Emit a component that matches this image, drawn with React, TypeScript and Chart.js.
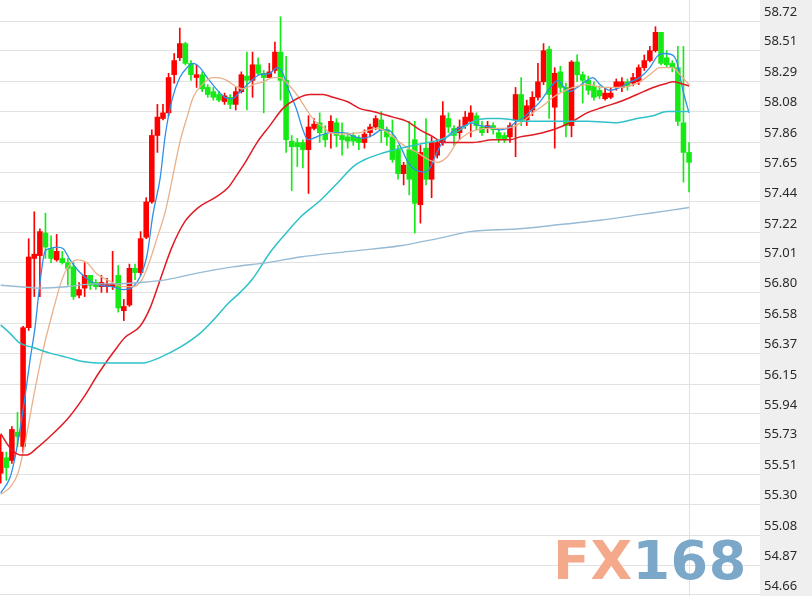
import { useEffect, useRef } from "react";
import { Chart, registerables } from "chart.js";
Chart.register(...registerables);

const tickLabels = ["58.72","58.51","58.29","58.08","57.86","57.65","57.44","57.22","57.01","56.80","56.58","56.37","56.15","55.94","55.73","55.51","55.30","55.08","54.87","54.66"];

const opens = [55.52,55.63,55.61,55.81,55.71,56.55,57.04,57.06,57.22,57.11,57.03,57.04,57.01,56.98,56.78,56.83,56.92,56.87,56.84,56.84,56.84,56.92,56.67,56.71,56.97,56.94,57.19,57.44,57.91,58.03,58.07,58.34,58.46,58.56,58.42,58.32,58.34,58.25,58.22,58.20,58.15,58.18,58.13,58.22,58.33,58.30,58.41,58.35,58.32,58.37,58.50,58.30,57.87,57.86,57.86,57.81,57.96,58.00,57.92,57.93,58.00,57.91,57.90,57.91,57.89,57.86,57.93,57.97,58.02,57.95,57.90,57.81,57.64,57.81,57.88,57.42,57.82,57.60,57.77,57.86,58.03,57.96,57.93,57.98,58.01,58.05,57.97,57.96,57.98,57.93,57.91,57.90,58.02,58.20,58.02,58.09,58.18,58.29,58.52,58.11,58.36,58.25,57.98,58.43,58.34,58.30,58.26,58.23,58.17,58.18,58.25,58.25,58.29,58.28,58.29,58.39,58.44,58.51,58.64,58.46,58.42,58.39,58.00,57.79];
const highs = [55.79,55.67,55.85,55.95,56.56,57.18,57.37,57.25,57.36,57.20,57.21,57.09,57.04,57.01,56.87,57.01,56.92,56.89,56.92,56.90,57.09,56.99,56.75,57.00,57.00,57.23,57.47,57.95,58.13,58.13,58.35,58.49,58.67,58.57,58.44,58.41,58.36,58.27,58.25,58.22,58.21,58.20,58.25,58.36,58.50,58.50,58.46,58.37,58.42,58.57,58.75,58.47,57.91,57.89,57.88,58.05,58.03,58.07,57.98,58.05,58.03,58.00,57.93,57.93,57.91,57.95,57.99,58.05,58.08,57.97,58.02,57.84,57.72,58.01,58.01,57.84,58.03,57.90,57.88,58.15,58.07,57.98,58.02,58.08,58.12,58.07,58.01,58.01,58.00,57.95,57.93,58.00,58.25,58.32,58.16,58.22,58.42,58.56,58.54,58.39,58.40,58.28,58.44,58.48,58.36,58.33,58.29,58.26,58.25,58.25,58.31,58.32,58.31,58.35,58.41,58.48,58.54,58.68,58.64,58.51,58.44,58.54,58.54,57.86];
const lows = [55.45,55.47,55.59,55.71,55.67,56.53,56.77,56.77,57.04,57.01,57.02,57.00,56.85,56.75,56.76,56.77,56.82,56.82,56.80,56.80,56.82,56.66,56.60,56.70,56.89,56.92,57.18,57.43,57.79,58.02,58.05,58.28,58.44,58.41,58.30,58.25,58.22,58.18,58.16,58.15,58.13,58.10,58.09,58.21,58.09,58.18,58.34,58.07,58.32,58.35,58.16,57.79,57.52,57.69,57.68,57.50,57.95,57.86,57.83,57.82,57.83,57.77,57.82,57.84,57.81,57.82,57.90,57.95,57.86,57.84,57.72,57.60,57.56,57.49,57.22,57.29,57.56,57.47,57.75,57.84,57.93,57.84,57.88,57.96,57.90,57.95,57.91,57.93,57.92,57.86,57.86,57.86,57.76,57.98,57.98,58.05,58.16,58.27,58.03,57.82,58.22,57.90,57.90,58.29,58.14,58.20,58.16,58.17,58.16,58.17,58.23,58.22,58.23,58.26,58.27,58.37,58.43,58.50,58.41,58.39,58.36,57.98,57.58,57.51];
const closes = [55.67,55.56,55.83,55.78,56.55,57.05,57.07,57.23,57.12,57.04,57.09,57.01,56.97,56.77,56.82,56.92,56.85,56.84,56.87,56.86,56.86,56.69,56.70,56.97,56.94,57.18,57.44,57.91,58.04,58.07,58.32,58.44,58.56,58.42,58.34,58.34,58.24,58.20,58.18,58.16,58.19,58.13,58.22,58.34,58.30,58.41,58.35,58.32,58.36,58.50,58.30,57.88,57.83,57.83,57.81,57.97,57.99,57.93,57.88,58.01,57.91,57.88,57.87,57.87,57.86,57.92,57.97,58.03,57.95,57.90,57.74,57.64,57.70,57.60,57.43,57.79,57.60,57.86,57.86,58.05,57.97,57.91,57.97,58.04,58.07,57.98,57.93,57.98,57.95,57.89,57.88,57.98,58.20,58.01,58.12,58.18,58.29,58.51,58.20,58.35,58.25,57.98,58.43,58.34,58.30,58.23,58.18,58.19,58.21,58.21,58.29,58.29,58.26,58.32,58.39,58.44,58.51,58.64,58.42,58.41,58.39,58.01,57.79,57.72];

const ma5Idx = [0,1.66,2.56,3.45,4.34,5.24,6.13,7.02,7.92,8.81,10.06,11.13,12.38,14.17,15.96,17.74,19.9,21.85,23.64,24.9,26.14,27.2,28.5,29.4,30.6,32.0,33.3,34.4,35.6,36.9,38.3,40.1,41.3,42.8,44.6,46.3,48.1,49.4,50.3,51.3,52.9,54.0,54.9,55.8,57.1,58.8,61.2,63.3,64.7,66.4,68.1,69.2,70.5,71.7,72.8,74.0,75.8,76.7,77.6,78.9,80.0,81.2,83.0,83.9,85.7,87.4,89.2,90.5,91.9,93.2,94.6,96.4,98.2,99.6,100.5,101.7,103.0,104.8,105.8,107.1,108.9,110.7,112.5,114.2,116.0,117.3,118.3,120.0,120.9,121.9,123.0];
const ma5Val = [55.38,55.49,55.63,55.83,56.06,56.32,56.55,56.87,57.09,57.11,57.12,57.11,57.03,56.94,56.88,56.85,56.84,56.82,56.84,56.91,57.06,57.35,57.61,57.91,58.16,58.32,58.39,58.42,58.39,58.32,58.25,58.18,58.17,58.22,58.29,58.34,58.35,58.39,58.36,58.25,58.09,57.95,57.88,57.89,57.91,57.93,57.93,57.90,57.89,57.91,57.95,57.95,57.90,57.81,57.72,57.67,57.65,57.68,57.76,57.86,57.91,57.95,57.98,58.00,57.98,57.97,57.95,57.96,58.00,58.03,58.08,58.15,58.25,58.30,58.26,58.22,58.25,58.30,58.32,58.27,58.23,58.25,58.29,58.32,58.39,58.47,58.49,58.48,58.42,58.23,58.07];

const ma10Idx = [0,1.66,3.09,4.34,5.77,7.56,9.35,10.95,12.38,13.81,15.42,17.2,19.5,21.85,23.64,25.25,26.7,27.9,29.4,30.6,32.0,33.3,34.4,36.0,37.8,38.8,40.4,41.9,43.3,45.1,46.9,48.7,49.9,51.2,52.9,54.7,56.2,57.6,58.8,61.2,64.2,67.4,69.2,71.0,72.8,74.4,76.4,78.0,79.8,81.5,83.3,85.1,87.4,89.8,91.5,93.3,95.1,96.9,98.7,100.5,102.3,104.8,107.6,110.7,113.7,116.0,117.8,119.1,120.1,121.4,123.0];
const ma10Val = [55.37,55.42,55.52,55.73,56.04,56.39,56.67,56.89,57.00,57.03,57.01,56.93,56.88,56.84,56.84,56.89,57.03,57.18,57.37,57.59,57.86,58.04,58.18,58.27,58.32,58.32,58.30,58.26,58.24,58.27,58.29,58.32,58.32,58.28,58.20,58.09,58.01,57.97,57.93,57.92,57.93,57.96,57.93,57.87,57.82,57.79,57.74,57.72,57.76,57.86,57.92,57.95,57.96,57.96,57.97,58.01,58.07,58.12,58.18,58.22,58.25,58.27,58.25,58.25,58.28,58.34,58.39,58.39,58.39,58.34,58.27];

const ma30Idx = [0,1.66,3.45,4.7,6.5,8.81,11.85,14.7,17.7,20.4,22.2,24.9,26.7,28.5,30.6,32.9,35.3,38.3,40.6,42.2,43.7,45.8,48.1,50.4,52.9,55.3,57.6,59.4,61.9,64.2,66.5,70.1,72.6,74.9,77.3,79.0,81.5,84.4,88.0,91.0,92.8,95.8,98.7,101.7,104.8,107.6,110.7,113.7,116.6,119.1,120.1,121.4,123.0];
const ma30Val = [55.80,55.70,55.65,55.65,55.70,55.78,55.90,56.05,56.24,56.39,56.48,56.56,56.69,56.89,57.12,57.30,57.40,57.47,57.54,57.63,57.72,57.86,57.98,58.10,58.17,58.20,58.20,58.18,58.15,58.10,58.08,58.04,58.01,57.95,57.90,57.86,57.86,57.86,57.88,57.88,57.90,57.92,57.95,58.00,58.07,58.11,58.15,58.20,58.25,58.28,58.29,58.28,58.26];

const ma60Idx = [0,1.66,3.45,5.77,8.81,11.85,14.7,17.2,22.2,25.4,28.5,32.0,35.6,37.9,40.6,42.8,45.1,48.1,50.8,53.5,57.1,60.1,63.0,65.1,67.8,71.4,74.9,78.5,82.1,84.4,86.9,89.2,91.5,94.0,99.9,104.8,110.1,113.7,116.6,119.1,120.9,123.0];
const ma60Val = [56.57,56.51,56.44,56.41,56.37,56.34,56.31,56.30,56.30,56.30,56.34,56.41,56.51,56.60,56.72,56.80,56.90,57.08,57.21,57.33,57.45,57.57,57.69,57.74,57.78,57.82,57.85,57.88,57.95,58.01,58.03,58.03,58.02,58.01,58.01,58.01,58.00,58.03,58.05,58.08,58.08,58.08];

const ma120Idx = [0,3.45,7.0,11.85,16.5,20.8,24.9,29.7,35.6,41.5,47.6,53.5,62.4,71.4,78.0,83.9,92.8,100.0,107.1,114.2,119.6,123.0];
const ma120Val = [56.85,56.84,56.83,56.84,56.86,56.86,56.87,56.89,56.94,56.98,57.01,57.05,57.09,57.13,57.18,57.23,57.25,57.28,57.31,57.35,57.38,57.40];

const UP = "#ff0000";
const DOWN = "#16ea16";
const GRID = "#e2e2e2";

export default function App() {
  const ref = useRef<HTMLCanvasElement>(null);
  useEffect(() => {
    const idx = closes.map((_, i) => i);
    const colors = closes.map((c, i) => (c >= opens[i] ? UP : DOWN));
    const panel = {
      id: "panel",
      beforeDraw(chart: any) {
        const { ctx, chartArea, width, height } = chart;
        ctx.save();
        ctx.fillStyle = "#efefef";
        ctx.fillRect(chartArea.right, 0, width - chartArea.right, height);
        ctx.restore();
      },
    };
    const line = (xs: number[], vs: number[], color: string, w: number) => ({
      type: "line" as const,
      data: xs.map((x, k) => ({ x, y: vs[k] })),
      borderColor: color,
      borderWidth: w,
      pointRadius: 0,
      cubicInterpolationMode: "monotone" as const,
      fill: false,
      order: 0,
    });
    const chart = new Chart(ref.current!, {
      type: "bar",
      data: {
        datasets: [
          line(ma120Idx, ma120Val, "#97bbd4", 1.4),
          line(ma60Idx, ma60Val, "#2fc2c8", 1.5),
          line(ma30Idx, ma30Val, "#e01b24", 1.5),
          line(ma10Idx, ma10Val, "#e9b08a", 1.3),
          line(ma5Idx, ma5Val, "#2d8fe8", 1.3),
          {
            type: "bar",
            data: idx.map((i) => ({ x: i, y: [opens[i], closes[i]] })),
            backgroundColor: colors,
            barThickness: 4.9,
            grouped: false,
            minBarLength: 1,
            order: 1,
          } as any,
          {
            type: "bar",
            data: idx.map((i) => ({ x: i, y: [lows[i], highs[i]] })),
            backgroundColor: colors,
            barThickness: 1,
            grouped: false,
            order: 2,
          } as any,
        ],
      },
      options: {
        animation: false,
        responsive: false,
        maintainAspectRatio: false,
        layout: { padding: 0 },
        plugins: { legend: { display: false }, tooltip: { enabled: false } },
        scales: {
          x: {
            type: "linear",
            min: -0.125,
            max: 135.68,
            offset: false,
            ticks: { display: false },
            grid: { color: GRID, drawTicks: false, offset: false },
            border: { display: false },
            afterBuildTicks: (s: any) => {
              s.ticks = [{ value: closes.length - 1 }];
            },
            afterFit: (s: any) => {
              s.height = 0;
              s.paddingLeft = 0;
              s.paddingRight = 0;
              s.paddingTop = 0;
              s.paddingBottom = 0;
            },
          },
          y: {
            position: "right",
            min: 54.6515,
            max: 58.8686,
            ticks: {
              autoSkip: false,
              labelOffset: -9,
              padding: 4,
              color: "#2a2a2a",
              font: { family: "Noto Sans", size: 13 },
              callback: (_v: any, i: number) => tickLabels[i],
            },
            afterBuildTicks: (s: any) => {
              s.ticks = tickLabels.map((t) => ({ value: parseFloat(t) }));
            },
            afterFit: (s: any) => {
              s.width = 52;
              s.paddingTop = 0;
              s.paddingBottom = 0;
              s.paddingLeft = 0;
              s.paddingRight = 0;
            },
            grid: { color: GRID, drawTicks: false },
            border: { display: false },
          },
        },
      } as any,
      plugins: [panel],
    });
    return () => chart.destroy();
  }, []);
  return (
    <div style={{ position: "fixed", left: 0, top: 0, width: 812, height: 596, background: "#fff", overflow: "hidden" }}>
      <canvas ref={ref} width={812} height={596} style={{ display: "block", width: 812, height: 596 }} />
      <div
        style={{
          position: "absolute",
          left: 553,
          top: 534,
          fontFamily: "'DejaVu Sans', sans-serif",
          fontWeight: "bold",
          fontSize: 54,
          lineHeight: "54px",
          whiteSpace: "nowrap",
          letterSpacing: 0.5,
        }}
      >
        <span style={{ color: "#f5a98b" }}>FX</span>
        <span style={{ color: "#7ba7c8" }}>168</span>
      </div>
    </div>
  );
}
